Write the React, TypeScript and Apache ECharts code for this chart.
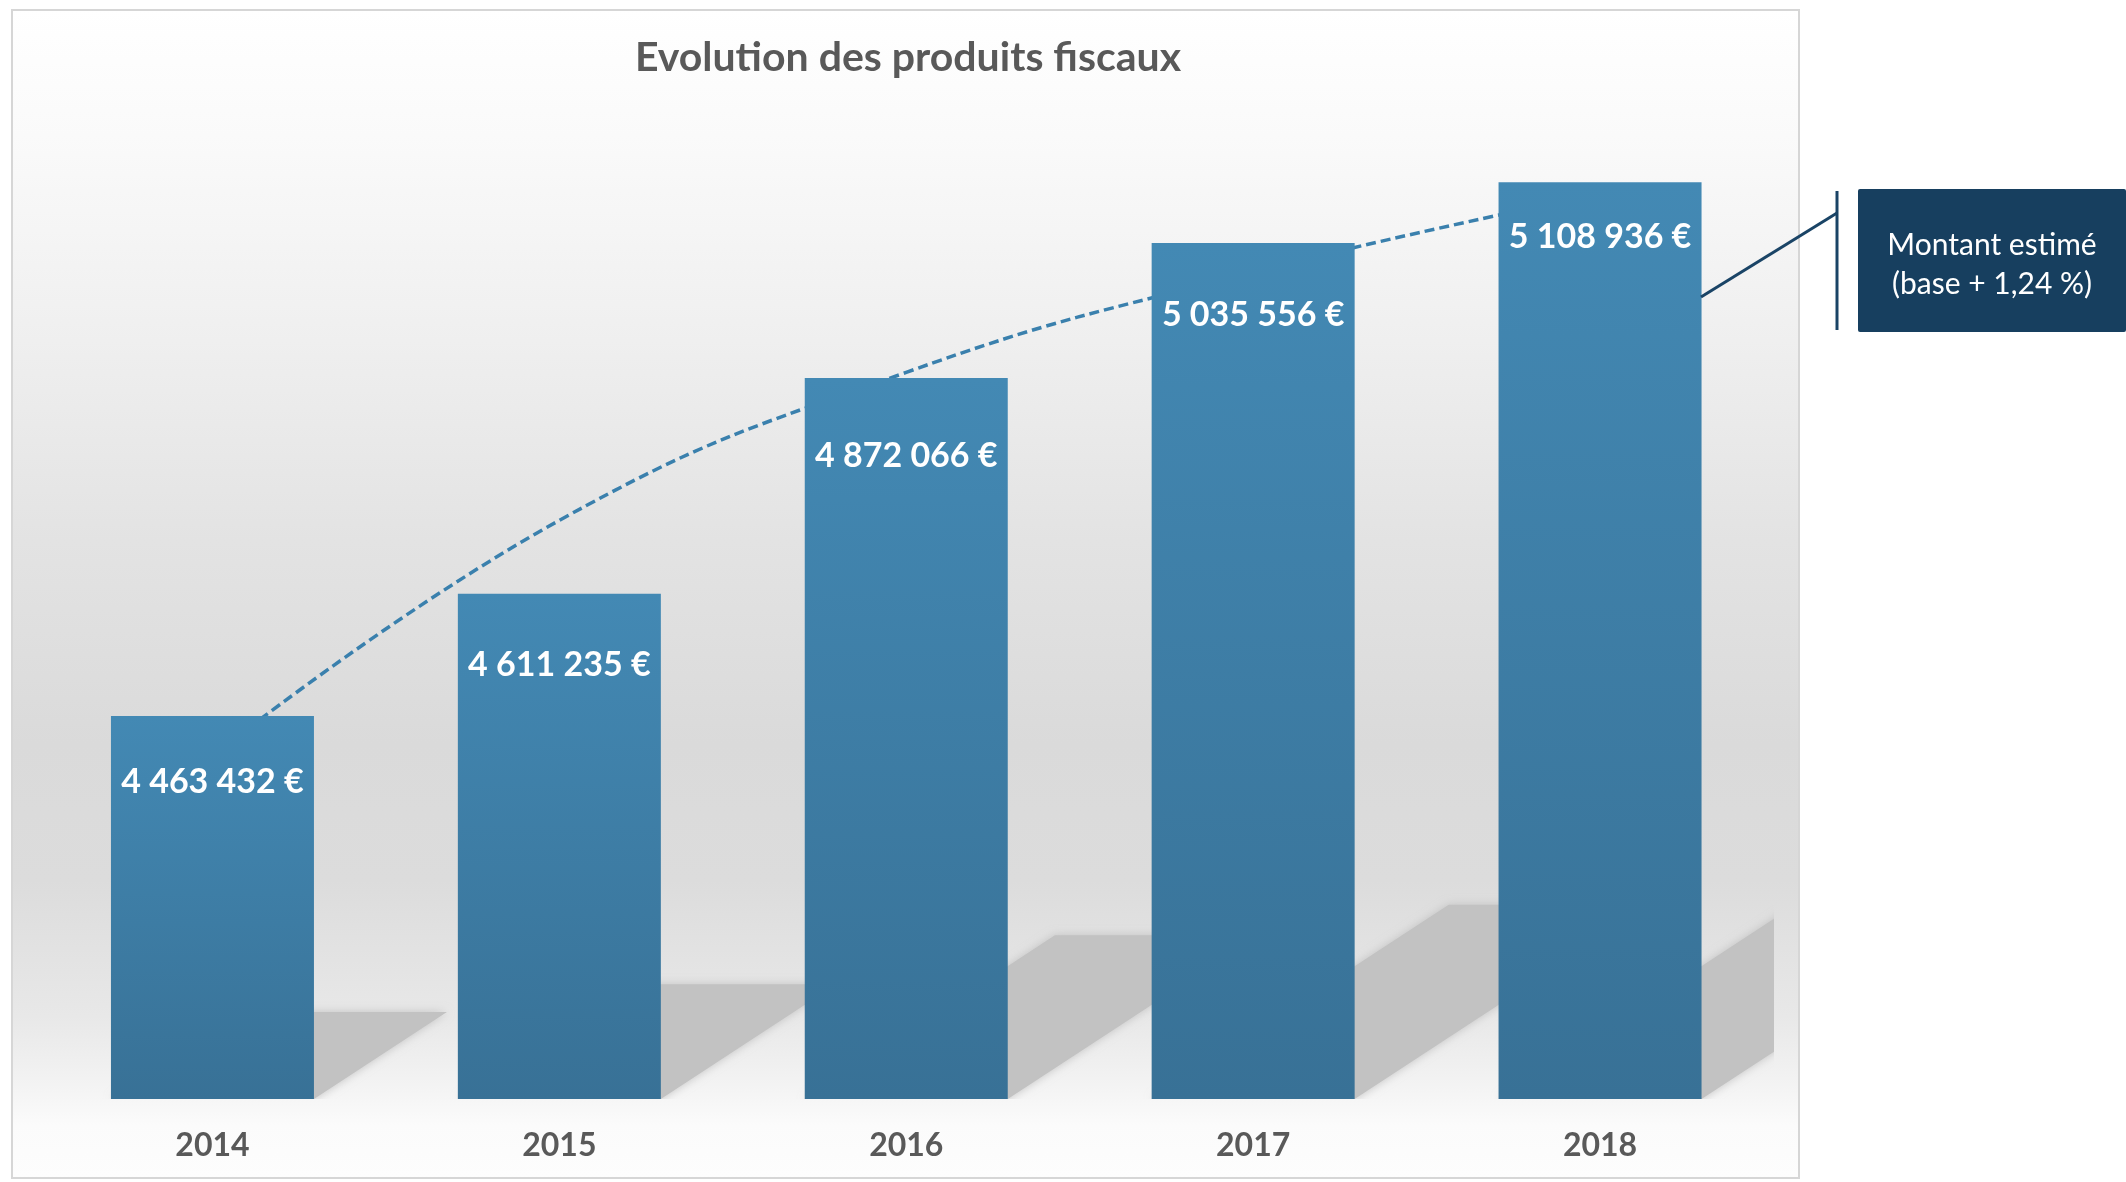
import React, { useEffect, useRef } from "react";
import * as echarts from "echarts";

// ---- data ----
const years: string[] = ["2014", "2015", "2016", "2017", "2018"];
const amounts: number[] = [4463432, 4611235, 4872066, 5035556, 5108936];
// dashed trend curve, values at each year
const trend: number[] = [4415000, 4700000, 4879000, 5000000, 5095000];
const titleText = "Evolution des produits fiscaux";
const noteLines: string[] = ["Montant estimé", "(base + 1,24 %)"];

// ---- layout / style constants ----
const Y_MIN = 4000000;
const Y_MAX = 5200000;
const BAR_W = 203;
const labelNudge: number[] = [-2, 3, 9, 4, -14];
const SHADOW_DX = 0.347;
const SHADOW_DY = 0.227;

function fmt(v: number): string {
  return String(v).replace(/\B(?=(\d{3})+(?!\d))/g, " ") + " €";
}

export default function App() {
  const ref = useRef<HTMLDivElement>(null);

  useEffect(() => {
    if (!ref.current) return;
    const chart = echarts.init(ref.current, undefined, { renderer: "svg" });

    const bgGrad = new echarts.graphic.LinearGradient(0, 0, 0, 1, [
      { offset: 0, color: "#ffffff" },
      { offset: 0.108, color: "#fafafa" },
      { offset: 0.283, color: "#efefef" },
      { offset: 0.454, color: "#e3e3e3" },
      { offset: 0.629, color: "#dadada" },
      { offset: 0.745, color: "#dcdcdc" },
      { offset: 0.862, color: "#e8e8e8" },
      { offset: 0.92, color: "#f3f3f3" },
      { offset: 0.955, color: "#fbfbfb" },
      { offset: 1, color: "#fdfdfd" },
    ]);

    const barGrad = new echarts.graphic.LinearGradient(0, 0, 0, 1, [
      { offset: 0, color: "#4389b4" },
      { offset: 1, color: "#387196" },
    ]);

    const option: any = {
      animation: false,
      grid: { left: 39, right: 352.5, top: 107, bottom: 83, containLabel: false },
      xAxis: {
        type: "category",
        data: years,
        axisLine: { show: false },
        axisTick: { show: false },
        axisLabel: {
          color: "#595959",
          fontFamily: "Lato",
          fontWeight: "bold",
          fontSize: 32,
          margin: 28,
        },
      },
      yAxis: {
        type: "value",
        min: Y_MIN,
        max: Y_MAX,
        show: false,
        splitLine: { show: false },
      },
      graphic: [
        {
          type: "rect",
          z: -10,
          silent: true,
          shape: { x: 12, y: 10, width: 1787, height: 1168 },
          style: { fill: bgGrad, stroke: "#d6d6d6", lineWidth: 2 },
        },
        {
          type: "text",
          z: 10,
          x: 908,
          y: 55,
          style: {
            text: titleText,
            fill: "#595959",
            fontFamily: "Lato",
            fontWeight: "bold",
            fontSize: 41,
            textAlign: "center",
            textVerticalAlign: "middle",
            align: "center",
            verticalAlign: "middle",
          },
        },
        {
          type: "line",
          z: 100,
          shape: { x1: 1837, y1: 191, x2: 1837, y2: 330 },
          style: { stroke: "#1a4466", lineWidth: 3 },
        },
        {
          type: "line",
          z: 100,
          shape: { x1: 1837, y1: 213, x2: 1701, y2: 297 },
          style: { stroke: "#1a4466", lineWidth: 3 },
        },
        {
          type: "rect",
          z: 100,
          shape: { x: 1858, y: 189, width: 268, height: 143, r: 2 },
          style: { fill: "#173f5f" },
        },
        {
          type: "text",
          z: 101,
          x: 1992,
          y: 262,
          style: {
            text: noteLines.join("\n"),
            fill: "#ffffff",
            fontFamily: "Lato",
            fontSize: 30,
            lineHeight: 39,
            textAlign: "center",
            textVerticalAlign: "middle",
            align: "center",
            verticalAlign: "middle",
          },
        },
      ],
      series: [
        {
          type: "custom",
          z: 1,
          clip: true,
          silent: true,
          data: amounts.map((v, i) => [i, v]),
          encode: { x: 0, y: 1 },
          renderItem: (params: any, api: any) => {
            const idx = api.value(0);
            const val = api.value(1);
            const top = api.coord([idx, val]);
            const base = api.coord([idx, Y_MIN]);
            const x0 = top[0] - BAR_W / 2;
            const x1 = top[0] + BAR_W / 2;
            const bottom = base[1];
            const H = bottom - top[1];
            const dx = SHADOW_DX * H;
            const dy = SHADOW_DY * H;
            return {
              type: "polygon",
              shape: {
                points: [
                  [x0, bottom],
                  [x1, bottom],
                  [x1 + dx, bottom - dy],
                  [x0 + dx, bottom - dy],
                ],
              },
              style: {
                fill: "#c2c2c2",
                shadowBlur: 10,
                shadowColor: "rgba(190,190,190,0.9)",
              },
            };
          },
        },
        {
          type: "line",
          z: 2,
          data: trend,
          smooth: 0.45,
          symbol: "none",
          silent: true,
          lineStyle: { color: "#3a80ad", width: 3.5, type: [10, 5] },
        },
        {
          type: "bar",
          z: 3,
          barWidth: BAR_W,
          data: amounts.map((v, i) => ({
            value: v,
            label: { offset: [0, labelNudge[i]] },
          })),
          itemStyle: { color: barGrad },
          label: {
            show: true,
            position: "insideTop",
            distance: 49,
            color: "#ffffff",
            fontFamily: "Lato",
            fontWeight: "bold",
            fontSize: 34,
            formatter: (p: any) => fmt(p.value),
          },
        },
      ],
    };

    chart.setOption(option);
    return () => chart.dispose();
  }, []);

  return (
    <div
      ref={ref}
      style={{ position: "fixed", left: 0, top: 0, width: 2126, height: 1182 }}
    />
  );
}
